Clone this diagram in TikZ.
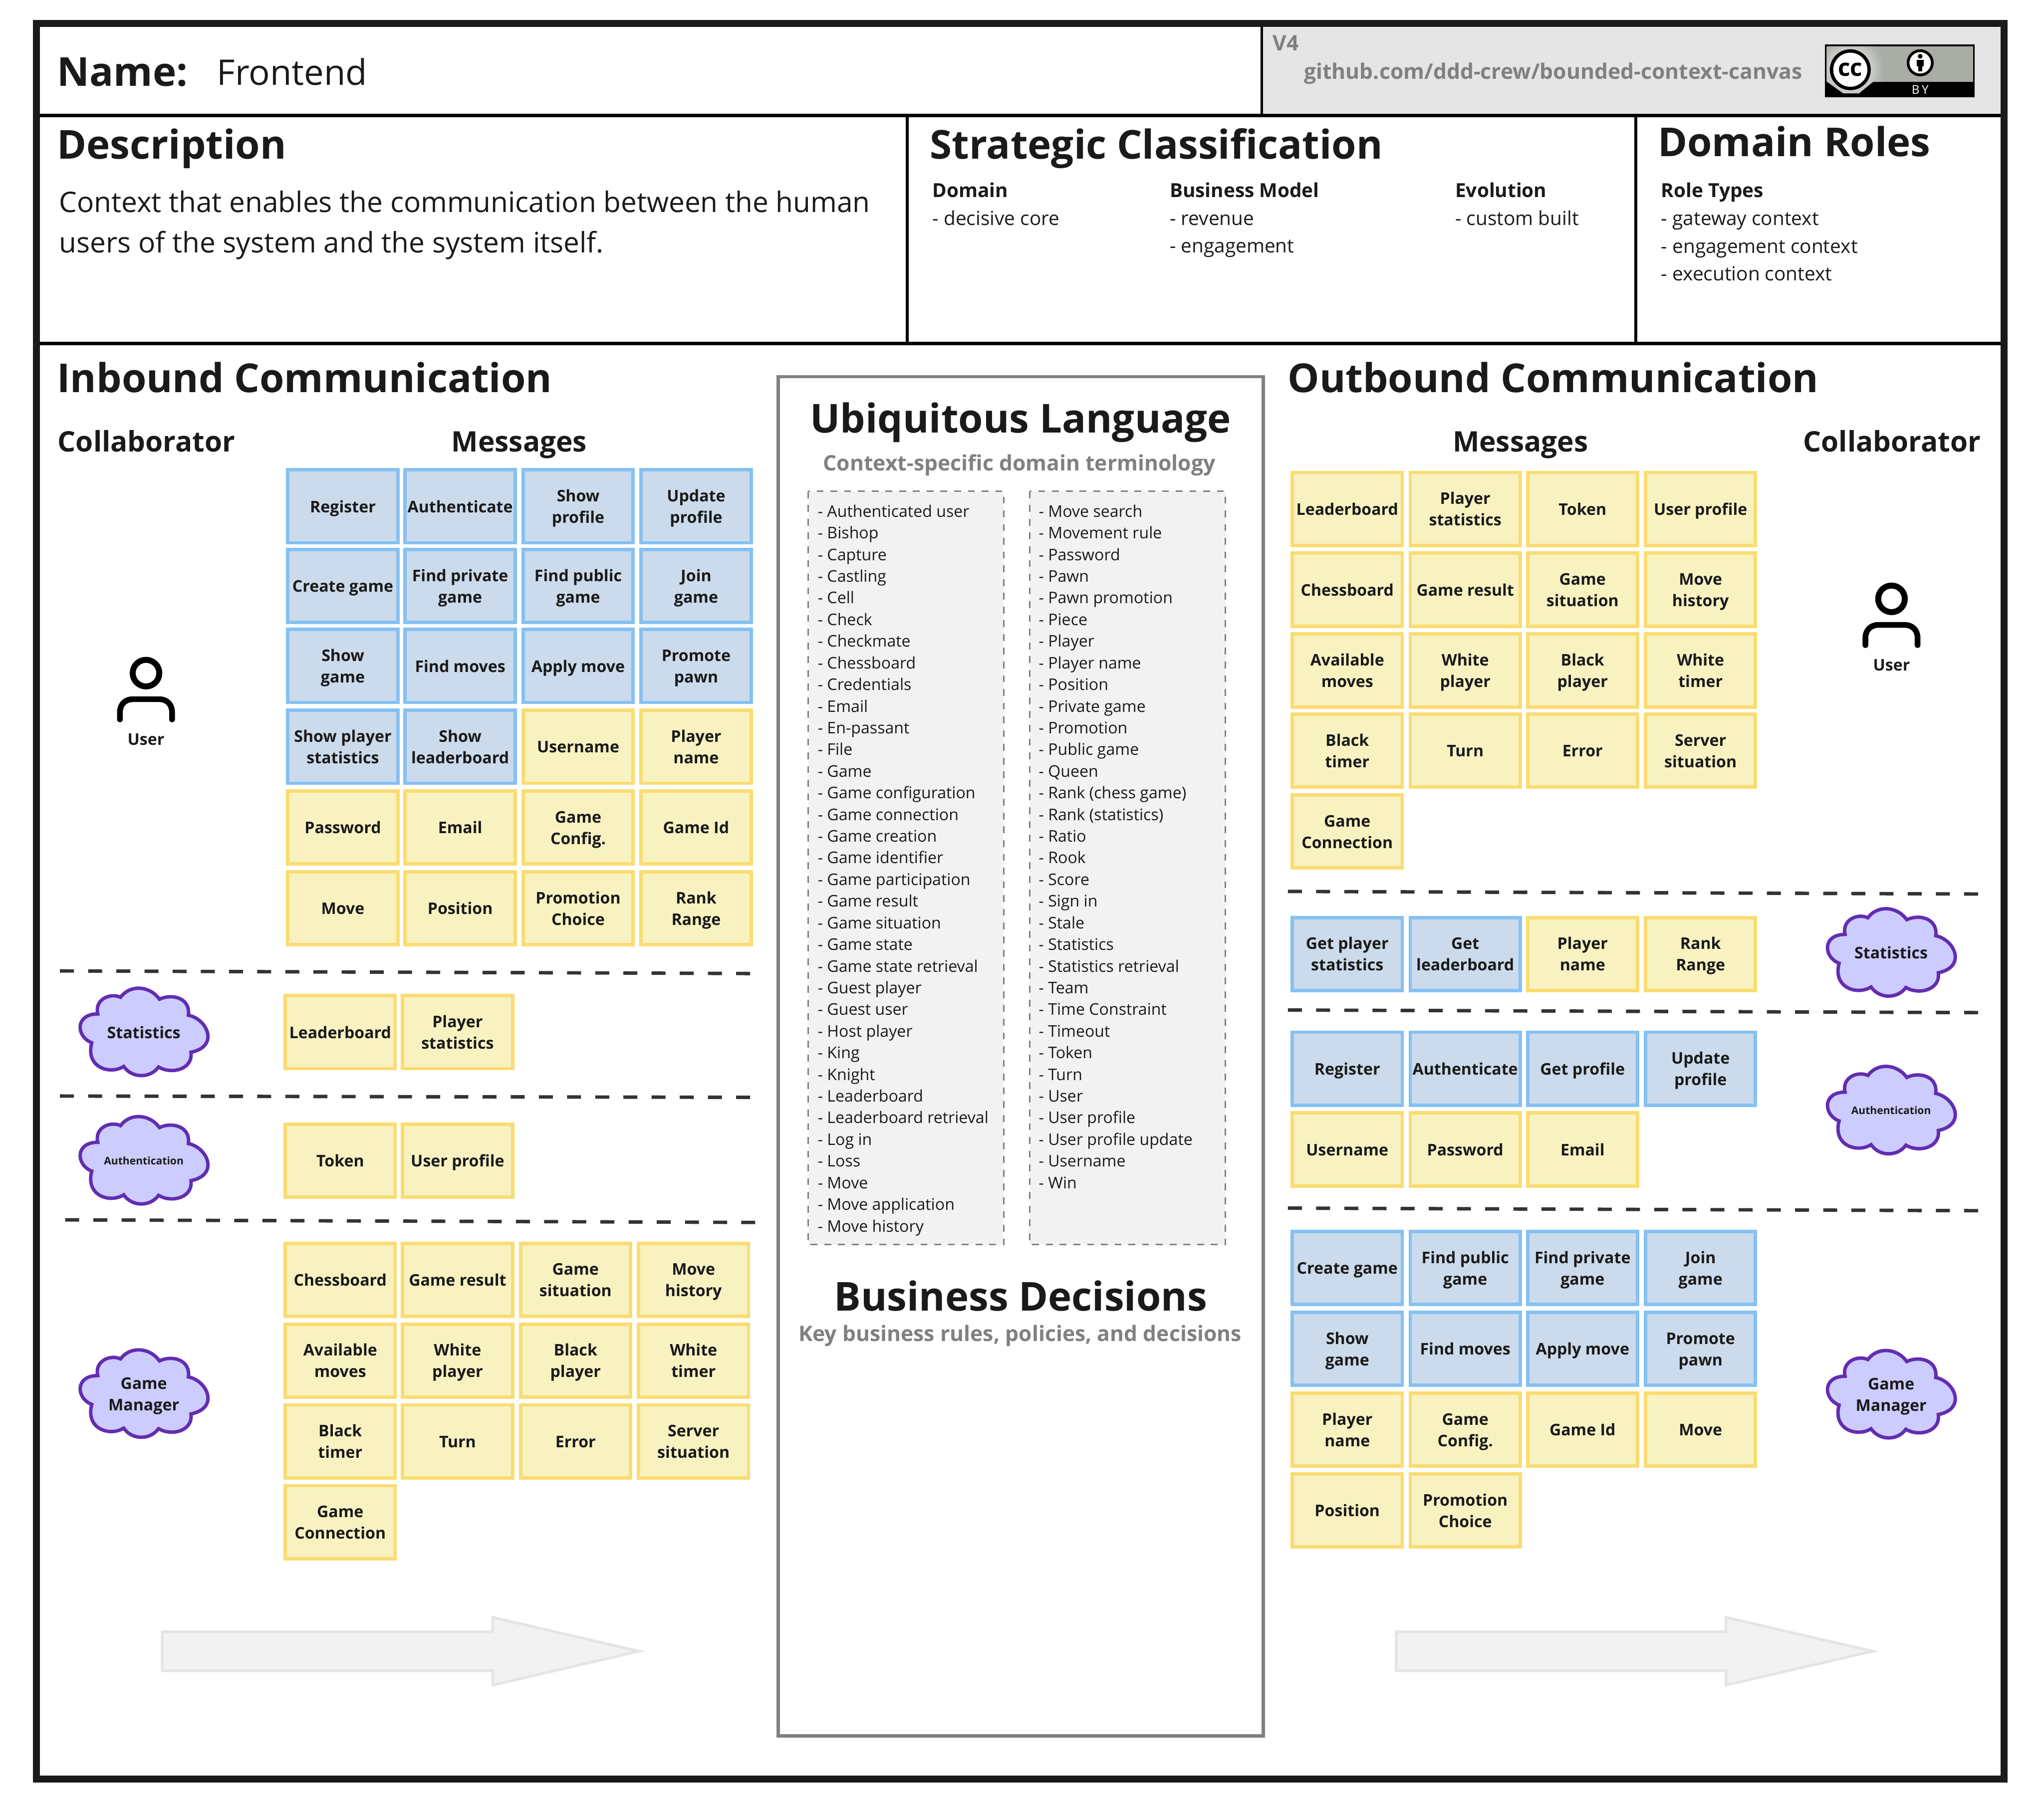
\documentclass[tikz,border=0pt]{standalone}
\usepackage{fontspec}
\setmainfont{Open Sans}
\definecolor{inkdark}{HTML}{1A1A1A}
\definecolor{inkgrey}{HTML}{808080}
\definecolor{bluefill}{HTML}{CBDBEC}
\definecolor{blueline}{HTML}{85C1F2}
\definecolor{yellowfill}{HTML}{F8F2C1}
\definecolor{yellowline}{HTML}{FADC70}
\definecolor{cloudfill}{HTML}{CCCCFF}
\definecolor{cloudline}{HTML}{632DB0}
\definecolor{badgegrey}{HTML}{A9ADA6}
\newcommand{\notetext}[1]{\rule{0pt}{7.5pt}#1\rule[-2.2pt]{0pt}{2.2pt}}

\begin{document}
\begin{tikzpicture}
[x=0.02cm,y=-0.02cm,text=inkdark,
  stickydecorate/.style={shape=rectangle,draw,line width=1.5pt,inner sep=0pt,
    minimum width=1.688cm,minimum height=1.12cm,align=center,
    font=\bfseries\fontsize{7pt}{9.4pt}\selectfont},%
  bluedecorate/.style={stickydecorate,fill=bluefill,draw=blueline},%
  yellowdecorate/.style={stickydecorate,fill=yellowfill,draw=yellowline},%
  clouddecorate/.style={shape=rectangle,inner sep=0pt,align=center,
    font=\bfseries\fontsize{7pt}{9.4pt}\selectfont},%
  titledecorate/.style={anchor=base west,inner sep=0pt,font=\bfseries\fontsize{17.4pt}{20pt}\selectfont},%
  headdecorate/.style={anchor=base west,inner sep=0pt,font=\bfseries\fontsize{12.35pt}{16pt}\selectfont},%
  subheaddecorate/.style={anchor=base west,inner sep=0pt,font=\bfseries\fontsize{8.45pt}{11pt}\selectfont},%
  bodydecorate/.style={anchor=base west,inner sep=0pt,font=\fontsize{8.45pt}{11pt}\selectfont},%
  listdecorate/.style={anchor=north west,inner sep=0pt,align=left,font=\fontsize{7pt}{9.46pt}\selectfont},%
  dividedecorate/.style={draw=black!80,line width=1.5pt,dash pattern=on 6.1pt off 6.2pt},%
  bigarrowdecorate/.style={fill=black!5,draw=black!10,line width=1.2pt},%
  usericon/.pic={
    \draw[line width=2.6pt] (0,0) circle (10.2);
    \draw[line width=2.5pt,line cap=round] (-20,35.5) -- (-20,30)
      .. controls (-20,24) and (-16,20) .. (-10,20) -- (10,20)
      .. controls (16,20) and (20,24) .. (20,30) -- (20,35.5);
  },
  cloudicon/.pic={
    \draw[draw=cloudline,fill=cloudfill,line width=1.5pt,miter limit=4] (-17.8,-26.8)
      .. controls (-11,-36.3) and (4,-36.3) .. (12,-25.3)
      .. controls (22,-30) and (36,-26) .. (34.2,-13)
      .. controls (49,-10) and (58,11) .. (36.2,15.4)
      .. controls (38,28) and (22,33) .. (11.3,26.7)
      .. controls (5,35.6) and (-9,35.6) .. (-15.4,26.3)
      .. controls (-26,33) and (-45,27) .. (-39.9,8.1)
      .. controls (-52,3.5) and (-53,-14) .. (-35.3,-14)
      .. controls (-38,-25) and (-26,-30.5) .. (-17.8,-26.8) -- cycle;
  }]
%% frame
\useasboundingbox (0,0) rectangle (1568,1385.4);
\fill[black!10] (969,21) rectangle (1535,87);
\draw[line width=1.2pt] (968,20) -- (968,88);
\draw[line width=1.5pt] (28,88.5) -- (1537,88.5);
\draw[line width=1.5pt] (28,263.5) -- (1537,263.5);
\draw[line width=1.3pt] (696,89) -- (696,263);
\draw[line width=1.3pt] (1255,89) -- (1255,263);
\draw[draw=inkdark,line width=3.1pt] (28,18) rectangle (1537.5,1365);
%% header
\node (namelabel) at (43.5,66) [titledecorate] {Name:};
\node (namevalue) at (166,65.3) [titledecorate,font=\fontsize{15.4pt}{20pt}\selectfont] {Frontend};
\node (version) at (976,39) [subheaddecorate,text=inkgrey,font=\bfseries\fontsize{9.3pt}{11pt}\selectfont] {V4};
\node (repo) at (1000,60.7) [subheaddecorate,text=inkgrey,font=\bfseries\fontsize{9.3pt}{11pt}\selectfont] {github.com/ddd-crew/bounded-context-canvas};
%% licence badge
\fill[black] (1400,34.1) rectangle (1514.7,74.6);
\begin{scope}
\clip (1401.2,35.6) -- (1513.6,35.6) -- (1513.6,62.8) -- (1436.8,62.8) -- (1426,71.6) -- (1414,71.6) -- (1401.2,62.5) -- cycle;
\fill[badgegrey] (1400,34) rectangle (1515,75);
\shade[inner color=white,outer color=badgegrey] (1419.4,53.5) circle (26);
\end{scope}
\draw[fill=white,line width=1.47pt] (1419.4,53.5) circle (14.4);
\node (ccmark) at (1419.4,53.5) [inner sep=0pt,font=\bfseries\fontsize{10.4pt}{12pt}\selectfont,text=black] {cc};
\draw[fill=white,line width=1.2pt] (1473,48.2) circle (9.3);
\fill[black] (1473,43.2) circle (1.8);
\fill[black] (1470.2,46) rectangle (1475.8,50.9);
\fill[black] (1471.5,50.9) rectangle (1474.5,54.8);
\node (bymark) at (1473,68.7) [inner sep=0pt,text=white,font=\fontsize{5.3pt}{6pt}\selectfont] {B\kern1pt Y};
%% description and classification
\node (desctitle) at (43.5,122) [titledecorate] {Description};
\node (desctext) at (45,163) [bodydecorate,font=\fontsize{12.36pt}{17.6pt}\selectfont] {Context that enables the communication between the human};
\node (desctext2) at (45,194) [bodydecorate,font=\fontsize{12.36pt}{17.6pt}\selectfont] {users of the system and the system itself.};
\node (strattitle) at (713,122) [titledecorate] {Strategic Classification};
\node (roletitle) at (1271.5,120) [titledecorate] {Domain Roles};
\foreach \nodename/\x/\y/\nodetext in {domain/715/151.5/Domain, model/897/151.5/Business Model,
  evolution/1116/151.5/Evolution, roletypes/1274/151.5/Role Types}
{
  \node (\nodename) at (\x,\y) [subheaddecorate] {\nodetext};
}
\foreach \nodename/\x/\y/\nodetext in {core/715/173/- decisive core, revenue/897/173/- revenue,
  engage/897/194/- engagement, built/1116/173/- custom built, gateway/1274/173/- gateway context,
  engagectx/1274/194.3/- engagement context, execctx/1274/215.5/- execution context}
{
  \node (\nodename) at (\x,\y) [bodydecorate] {\nodetext};
}
%% section titles
\node (intitle) at (43.5,301) [titledecorate] {Inbound Communication};
\node (outtitle) at (987.5,301) [titledecorate] {Outbound Communication};
\node (incollab) at (44,346.5) [headdecorate] {Collaborator};
\node (inmsg) at (346,346.5) [headdecorate] {Messages};
\node (outmsg) at (1114,346.5) [headdecorate] {Messages};
\node (outcollab) at (1383,346.5) [headdecorate] {Collaborator};
%% centre panel
\draw[draw=inkgrey,line width=1.4pt] (597,289) rectangle (969,1332);
\node (ultitle) at (783,332) [titledecorate,anchor=base] {Ubiquitous Language};
\node (ulsub) at (782,361) [subheaddecorate,anchor=base,text=inkgrey,font=\bfseries\fontsize{9.3pt}{11pt}\selectfont] {Context-specific domain terminology};
\draw[draw=inkgrey,fill=black!5,line width=0.6pt,dashed] (620,377) rectangle (770,955);
\draw[draw=inkgrey,fill=black!5,line width=0.6pt,dashed] (790,377) rectangle (940,955);
\node (listleft) at (627,387) [listdecorate] {- Authenticated user\\- Bishop\\- Capture\\- Castling\\- Cell\\- Check\\- Checkmate\\- Chessboard\\- Credentials\\- Email\\- En-passant\\- File\\- Game\\- Game configuration\\- Game connection\\- Game creation\\- Game identifier\\- Game participation\\- Game result\\- Game situation\\- Game state\\- Game state retrieval\\- Guest player\\- Guest user\\- Host player\\- King\\- Knight\\- Leaderboard\\- Leaderboard retrieval\\- Log in\\- Loss\\- Move\\- Move application\\- Move history};
\node (listright) at (796.5,387) [listdecorate] {- Move search\\- Movement rule\\- Password\\- Pawn\\- Pawn promotion\\- Piece\\- Player\\- Player name\\- Position\\- Private game\\- Promotion\\- Public game\\- Queen\\- Rank (chess game)\\- Rank (statistics)\\- Ratio\\- Rook\\- Score\\- Sign in\\- Stale\\- Statistics\\- Statistics retrieval\\- Team\\- Time Constraint\\- Timeout\\- Token\\- Turn\\- User\\- User profile\\- User profile update\\- Username\\- Win};
\node (bdtitle) at (783,1006) [titledecorate,anchor=base] {Business Decisions};
\node (bdsub) at (782.5,1029) [subheaddecorate,anchor=base,text=inkgrey,font=\bfseries\fontsize{9.3pt}{11pt}\selectfont] {Key business rules, policies, and decisions};
%% inbound messages
\foreach \nodename/\x/\y/\nodetext in {ib1/263/388.5/Register, ib2/353/388.5/Authenticate,
  ib3/443.5/388.5/Show\\profile, ib4/534/388.5/Update\\profile, ib5/263/449.7/Create game,
  ib6/353/449.7/Find private\\game, ib7/443.5/449.7/Find public\\game, ib8/534/449.7/Join\\game,
  ib9/263/511/Show\\game, ib10/353/511/Find moves, ib11/443.5/511/Apply move,
  ib12/534/511/Promote\\pawn, ib13/263/573/Show player\\statistics, ib14/353/573/Show\\leaderboard}
{
  \node (\nodename) at (\x,\y) [bluedecorate] {\notetext{\nodetext}};
}
\foreach \nodename/\x/\y/\nodetext in {iy1/443.5/573/Username, iy2/534/573/Player\\name,
  iy3/263/635/Password, iy4/353/635/Email, iy5/443.5/635/Game\\Config., iy6/534/635/Game Id,
  iy7/263/697/Move, iy8/353/697/Position, iy9/443.5/697/Promotion\\Choice, iy10/534/697/Rank\\Range,
  iy11/261/792/Leaderboard, iy12/351/792/Player\\statistics,
  iy13/261/890.5/Token, iy14/351/890.5/User profile,
  iy15/261/982/Chessboard, iy16/351/982/Game result, iy17/441.5/982/Game\\situation, iy18/532/982/Move\\history,
  iy19/261/1044/Available\\moves, iy20/351/1044/White\\player, iy21/441.5/1044/Black\\player, iy22/532/1044/White\\timer,
  iy23/261/1106/Black\\timer, iy24/351/1106/Turn, iy25/441.5/1106/Error, iy26/532/1106/Server\\situation,
  iy27/261/1168/Game\\Connection}
{
  \node (\nodename) at (\x,\y) [yellowdecorate] {\notetext{\nodetext}};
}
%% outbound messages
\foreach \nodename/\x/\y/\nodetext in {ob1/1033.5/732/Get player\\statistics, ob2/1124/732/Get\\leaderboard,
  ob3/1033.5/820/Register, ob4/1124/820/Authenticate, ob5/1214/820/Get profile, ob6/1304.5/820/Update\\profile,
  ob7/1033.5/973/Create game, ob8/1124/973/Find public\\game, ob9/1214/973/Find private\\game, ob10/1304.5/973/Join\\game,
  ob11/1033.5/1035/Show\\game, ob12/1124/1035/Find moves, ob13/1214/1035/Apply move, ob14/1304.5/1035/Promote\\pawn}
{
  \node (\nodename) at (\x,\y) [bluedecorate] {\notetext{\nodetext}};
}
\foreach \nodename/\x/\y/\nodetext in {oy1/1033.5/390.5/Leaderboard, oy2/1124/390.5/Player\\statistics, oy3/1214/390.5/Token, oy4/1304.5/390.5/User profile,
  oy5/1033.5/452.5/Chessboard, oy6/1124/452.5/Game result, oy7/1214/452.5/Game\\situation, oy8/1304.5/452.5/Move\\history,
  oy9/1033.5/514.5/Available\\moves, oy10/1124/514.5/White\\player, oy11/1214/514.5/Black\\player, oy12/1304.5/514.5/White\\timer,
  oy13/1033.5/576/Black\\timer, oy14/1124/576/Turn, oy15/1214/576/Error, oy16/1304.5/576/Server\\situation,
  oy17/1033.5/638/Game\\Connection, oy18/1214/732/Player\\name, oy19/1304.5/732/Rank\\Range,
  oy20/1033.5/882/Username, oy21/1124/882/Password, oy22/1214/882/Email,
  oy23/1033.5/1097/Player\\name, oy24/1124/1097/Game\\Config., oy25/1214/1097/Game Id, oy26/1304.5/1097/Move,
  oy27/1033.5/1159/Position, oy28/1124/1159/Promotion\\Choice}
{
  \node (\nodename) at (\x,\y) [yellowdecorate] {\notetext{\nodetext}};
}
%% collaborators
\pic at (112,516.5) {usericon};
\node (inuser) at (112,567.5) [inner sep=0pt,font=\bfseries\fontsize{7pt}{9pt}\selectfont] {User};
\pic at (1451,459.5) {usericon};
\node (outuser) at (1451,510.5) [inner sep=0pt,font=\bfseries\fontsize{7pt}{9pt}\selectfont] {User};
\foreach \nodename/\x/\y/\nodetext in {instats/110.3/792/Statistics, ingame/110.3/1069.5/Game\\Manager,
  outstats/1450.7/731/Statistics, outgame/1450.7/1070/Game\\Manager}
{
  \pic at (\x,\y) {cloudicon};
  \node (\nodename) at (\x,\y) [clouddecorate] {\notetext{\nodetext}};
}
\foreach \nodename/\x/\y in {inauth/110.3/890.5, outauth/1450.7/852}
{
  \pic at (\x,\y) {cloudicon};
  \node (\nodename) at (\x,\y) [clouddecorate,font=\bfseries\fontsize{4.6pt}{6pt}\selectfont] {Authentication};
}
%% dashed separators
\draw[dividedecorate] (46,745) -- (578,747);
\draw[dividedecorate] (46,841) -- (578,842);
\draw[dividedecorate] (50,936) -- (582,938);
\draw[dividedecorate] (988,684) -- (1520,686);
\draw[dividedecorate] (988,775) -- (1520,777);
\draw[dividedecorate] (988,927) -- (1522,929);
%% flow arrows
\draw[bigarrowdecorate] (124.5,1252) -- (378,1252) -- (378,1241) -- (490,1267) -- (378,1293) -- (378,1282) -- (124.5,1282) -- cycle;
\draw[bigarrowdecorate] (1071,1252) -- (1324,1252) -- (1324,1241) -- (1436.5,1267) -- (1324,1293) -- (1324,1282) -- (1071,1282) -- cycle;
\end{tikzpicture}
\end{document}
